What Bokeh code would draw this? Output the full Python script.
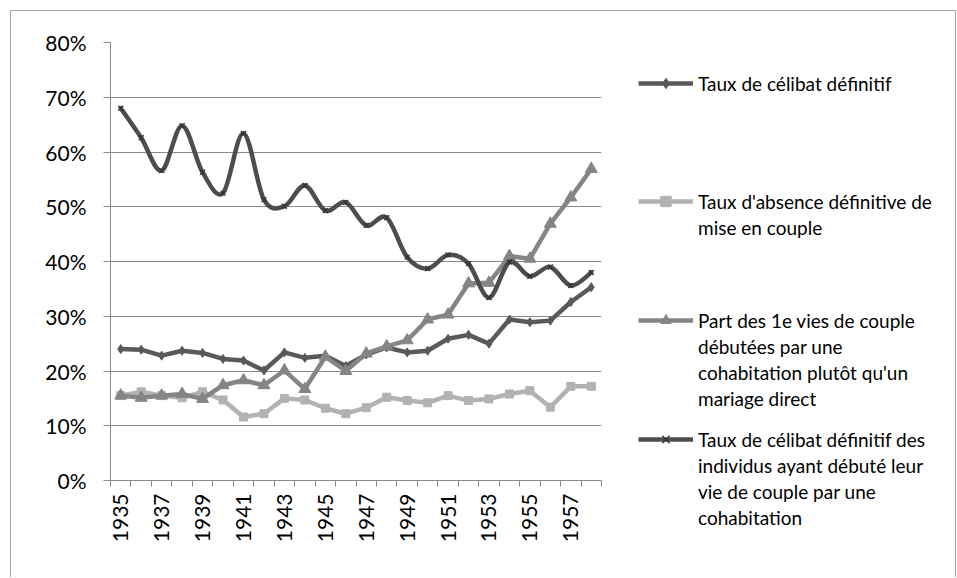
from bokeh.plotting import figure
from bokeh.layouts import row
from bokeh.models import (Range1d, FixedTicker, NumeralTickFormatter, Legend, LegendItem,
                          ColumnDataSource)
from bokeh.embed import file_html
from bokeh.resources import INLINE

years = list(range(1935, 1959))

celibat = [24.0, 23.9, 22.8, 23.7, 23.3, 22.2, 21.9, 20.1, 23.4, 22.4, 22.8, 20.9,
           23.0, 24.3, 23.4, 23.7, 25.9, 26.6, 25.0, 29.4, 28.9, 29.2, 32.6, 35.3]
absence = [15.5, 16.2, 15.5, 15.1, 16.2, 14.7, 11.6, 12.2, 15.0, 14.7, 13.2, 12.2,
           13.3, 15.2, 14.6, 14.2, 15.5, 14.6, 14.9, 15.8, 16.4, 13.4, 17.2, 17.2]
cohab_part = [15.5, 15.1, 15.5, 15.8, 14.9, 17.4, 18.3, 17.4, 20.1, 16.7, 22.6, 20.0,
              23.2, 24.5, 25.6, 29.4, 30.3, 36.0, 36.1, 41.0, 40.5, 46.9, 51.7, 56.9]
celibat_cohab = [68.0, 62.6, 56.6, 64.8, 56.3, 52.5, 63.4, 51.3, 50.1, 53.9, 49.3, 50.8,
                 46.6, 48.0, 40.8, 38.7, 41.2, 39.6, 33.4, 39.9, 37.3, 39.0, 35.6, 38.0]

labels = [
    ["Taux de célibat définitif"],
    ["Taux d'absence définitive de", "mise en couple"],
    ["Part des 1e vies de couple", "débutées par une", "cohabitation plutôt qu'un", "mariage direct"],
    ["Taux de célibat définitif des", "individus ayant débuté leur", "vie de couple par une", "cohabitation"],
]
tick_years = years[::2]
y_ticks = [i / 10 for i in range(9)]

FONT = "Lato"
GRID = "#8a8a8a"
c1, c2, c3, c4 = "#595959", "#b2b2b2", "#858585", "#4d4d4d"

def frac(v):
    return [x / 100.0 for x in v]

H = 562
p = figure(width=608, height=H, output_backend="svg", toolbar_location=None,
           x_range=Range1d(years[0] - 0.5, years[-1] + 0.5), y_range=Range1d(0, 0.8),
           min_border_left=110, min_border_right=7, min_border_top=42,
           min_border_bottom=H - 480)
p.outline_line_color = None
p.xgrid.grid_line_color = None
p.ygrid.grid_line_color = GRID
p.ygrid.grid_line_width = 1

p.yaxis.ticker = FixedTicker(ticks=y_ticks)
p.yaxis.formatter = NumeralTickFormatter(format="0%")
p.yaxis.axis_line_color = GRID
p.yaxis.major_tick_line_color = GRID
p.yaxis.major_tick_out = 7
p.yaxis.major_tick_in = 0
p.yaxis.minor_tick_line_color = None
p.yaxis.major_label_standoff = 17
p.yaxis.major_label_text_font = FONT
p.yaxis.major_label_text_font_size = "21px"
p.yaxis.major_label_text_color = "#000000"

p.xaxis.ticker = FixedTicker(ticks=tick_years,
                             minor_ticks=[y - 0.5 for y in years] + [years[-1] + 0.5])
p.xaxis.axis_line_color = GRID
p.xaxis.major_tick_line_color = None
p.xaxis.major_tick_out = 6
p.xaxis.minor_tick_line_color = GRID
p.xaxis.minor_tick_out = 6
p.xaxis.minor_tick_in = 0
p.xaxis.major_label_orientation = 3.14159265 / 2
p.xaxis.major_label_standoff = 7
p.xaxis.major_label_text_font = FONT
p.xaxis.major_label_text_font_size = "21px"
p.xaxis.major_label_text_color = "#000000"

s1 = ColumnDataSource(dict(x=years, y=frac(celibat)))
s2 = ColumnDataSource(dict(x=years, y=frac(absence)))
s3 = ColumnDataSource(dict(x=years, y=frac(cohab_part)))
s4 = ColumnDataSource(dict(x=years, y=frac(celibat_cohab)))

LW = 4.5
p.line("x", "y", source=s1, line_width=LW, line_color=c1, line_join="round")
p.scatter("x", "y", source=s1, marker="diamond", size=9, fill_color=c1, line_color=c1)
p.line("x", "y", source=s2, line_width=LW, line_color=c2, line_join="round")
p.scatter("x", "y", source=s2, marker="square", size=8, fill_color=c2, line_color=c2)
p.line("x", "y", source=s3, line_width=LW, line_color=c3, line_join="round")
p.scatter("x", "y", source=s3, marker="triangle", size=12, fill_color=c3, line_color=c3)

# smoothed line (Catmull-Rom style Bezier, as in the spreadsheet chart)
ys = frac(celibat_cohab)
n = len(years)
bx0, by0, bx1, by1, cx0, cy0, cx1, cy1 = [], [], [], [], [], [], [], []
for i in range(n - 1):
    i0 = max(i - 1, 0)
    i3 = min(i + 2, n - 1)
    bx0.append(years[i]); by0.append(ys[i])
    bx1.append(years[i + 1]); by1.append(ys[i + 1])
    cx0.append(years[i] + (years[i + 1] - years[i0]) / 6.0)
    cy0.append(ys[i] + (ys[i + 1] - ys[i0]) / 6.0)
    cx1.append(years[i + 1] - (years[i3] - years[i]) / 6.0)
    cy1.append(ys[i + 1] - (ys[i3] - ys[i]) / 6.0)
bsrc = ColumnDataSource(dict(x0=bx0, y0=by0, x1=bx1, y1=by1, cx0=cx0, cy0=cy0, cx1=cx1, cy1=cy1))
p.bezier(x0="x0", y0="y0", x1="x1", y1="y1", cx0="cx0", cy0="cy0", cx1="cx1", cy1="cy1",
         source=bsrc, line_width=LW, line_color=c4, line_cap="round")
p.scatter("x", "y", source=s4, marker="x", size=7, line_color="#333333", line_width=1.3)

# ---- legend panel to the right ----
LH = 26
WL = 333
pl = figure(width=WL, height=H, output_backend="svg", toolbar_location=None,
            x_range=Range1d(0, WL), y_range=Range1d(0, H),
            x_axis_type=None, y_axis_type=None,
            min_border_left=0, min_border_right=0, min_border_top=0, min_border_bottom=0)
pl.outline_line_color = None
pl.xgrid.grid_line_color = None
pl.ygrid.grid_line_color = None
try:
    pl.frame_align = False
except Exception:
    pass

nan = float("nan")
proxies = [
    [pl.line(x=[nan], y=[nan], line_width=LW, line_color=c1),
     pl.scatter(x=[nan], y=[nan], marker="diamond", size=9, fill_color=c1, line_color=c1)],
    [pl.line(x=[nan], y=[nan], line_width=LW, line_color=c2),
     pl.scatter(x=[nan], y=[nan], marker="square", size=8, fill_color=c2, line_color=c2)],
    [pl.line(x=[nan], y=[nan], line_width=LW, line_color=c3),
     pl.scatter(x=[nan], y=[nan], marker="triangle", size=12, fill_color=c3, line_color=c3)],
    [pl.line(x=[nan], y=[nan], line_width=LW, line_color=c4),
     pl.scatter(x=[nan], y=[nan], marker="x", size=7, line_color="#333333", line_width=1.3)],
]
# page y of the bottom edge of each legend block
block_bottoms = [96, 240, 411, 530]

for rs, lines, bb in zip(proxies, labels, block_bottoms):
    items = [LegendItem(label=lines[0], renderers=rs)]
    items += [LegendItem(label=t, renderers=[]) for t in lines[1:]]
    leg = Legend(items=items, location=(30, H - bb))
    leg.border_line_color = None
    leg.background_fill_alpha = 0
    leg.padding = 0
    leg.margin = 0
    leg.spacing = 0
    leg.glyph_width = 55
    leg.glyph_height = LH
    leg.label_height = LH
    leg.label_standoff = 5
    leg.label_text_font = FONT
    leg.label_text_font_size = "19px"
    leg.label_text_color = "#000000"
    pl.add_layout(leg, "center")

# thin chart-area border (left, top and right edges, as in the original)
frame_css = (":host { position: relative; } "
             ":host::after { content: ''; position: absolute; left: 10px; top: 10px; "
             "width: 946px; height: 567px; box-sizing: border-box; "
             "border-left: 1px solid #a6a6a6; border-top: 1px solid #a6a6a6; "
             "border-right: 1px solid #a6a6a6; pointer-events: none; }")

layout = row(p, pl, stylesheets=[frame_css])
open("out.html", "w").write(file_html(layout, INLINE))
